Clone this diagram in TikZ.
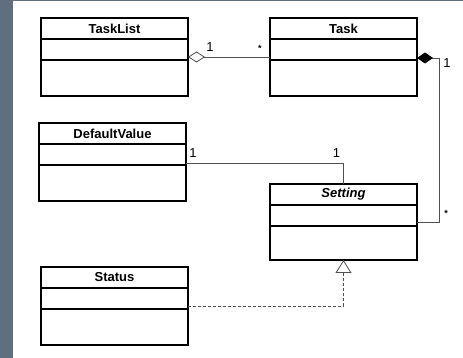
\documentclass[tikz,border=0pt]{standalone}
\usepackage{fontspec}
\setmainfont{Liberation Sans}
\usetikzlibrary{arrows.meta,positioning}
\definecolor{slate}{RGB}{95,111,125}
\definecolor{wire}{RGB}{80,80,80}

\begin{document}
\begin{tikzpicture}[x=1pt,y=1pt,
          head/.style={draw, line width=1.5pt, outer sep=0pt, inner sep=0pt,
                       minimum width=147pt, minimum height=21pt,
                       font=\fontsize{13}{15}\selectfont\bfseries},
          part/.style={draw, line width=1.5pt, outer sep=0pt,
                       minimum width=147pt, minimum height=21pt},
          ops/.style={part, minimum height=36pt},
          link/.style={wire, line width=0.8pt},
          mult/.style={text=black, font=\fontsize{13}{14}\selectfont, inner sep=0pt},
          many/.style={text=black, font=\fontsize{9}{10}\selectfont\bfseries, inner sep=0pt},
          node distance=0pt
        ]
          % page and side strip
          \fill[white] (0,0) rectangle (463,358);
          \fill[slate] (0,0) rectangle (13,358);
          \fill[slate] (0,356.8) rectangle (463,358);
          \useasboundingbox (0,0) rectangle (463,358);

          % classes
          \node[head, anchor=north west] (tasklist) at (41,340) {TaskList};
          \node[part] (tasklist-a) [below=of tasklist] {};
          \node[ops]  (tasklist-o) [below=of tasklist-a] {};

          \node[head, anchor=north west] (task) at (270,340) {Task};
          \node[part] (task-a) [below=of task] {};
          \node[ops]  (task-o) [below=of task-a] {};

          \node[head, anchor=north west] (defaultvalue) at (39,235) {DefaultValue};
          \node[part] (defaultvalue-a) [below=of defaultvalue] {};
          \node[ops]  (defaultvalue-o) [below=of defaultvalue-a] {};

          \node[head, anchor=north west] (setting) at (270,174) {\itshape Setting};
          \node[part] (setting-a) [below=of setting] {};
          \node[ops, minimum height=34pt]  (setting-o) [below=of setting-a] {};

          \node[head, anchor=north west] (status) at (41,91) {Status};
          \node[part] (status-a) [below=of status] {};
          \node[ops]  (status-o) [below=of status-a] {};

          % aggregation
          \draw[link, {Diamond[open,length=17pt,width=11pt]}-]
            ([yshift=3pt]tasklist-a.south east) -- ([yshift=3pt]task-a.south west)
            node[mult, at start, anchor=south west, xshift=18pt, yshift=5pt] {1}
            node[many, at end, anchor=south east, xshift=-8pt, yshift=5pt] {*};
          % composition
          \draw[link, {Diamond[length=16pt,width=11pt,color=black]}-]
            ([yshift=2pt]task-a.south east) -- ++(22pt,0)
            node[mult, at end, anchor=north west, xshift=4pt] {1}
            |- ([yshift=4pt]setting-a.south east)
            node[many, pos=0.5, anchor=south west, xshift=5pt, yshift=5pt] {*};
          % association
          \draw[link] ([yshift=2pt]defaultvalue-a.south east) -| (setting.north)
            node[mult, at start, anchor=south west, xshift=3pt, yshift=5pt] {1}
            node[mult, pos=0.5, anchor=south east, xshift=-3pt, yshift=5pt] {1};
          % realization
          \draw[link, dash pattern=on 3pt off 2pt, -{Triangle[open,length=13pt,width=16pt]}]
            ([yshift=3pt]status-a.south east) -| (setting-o.south);
        \end{tikzpicture}
\end{document}
